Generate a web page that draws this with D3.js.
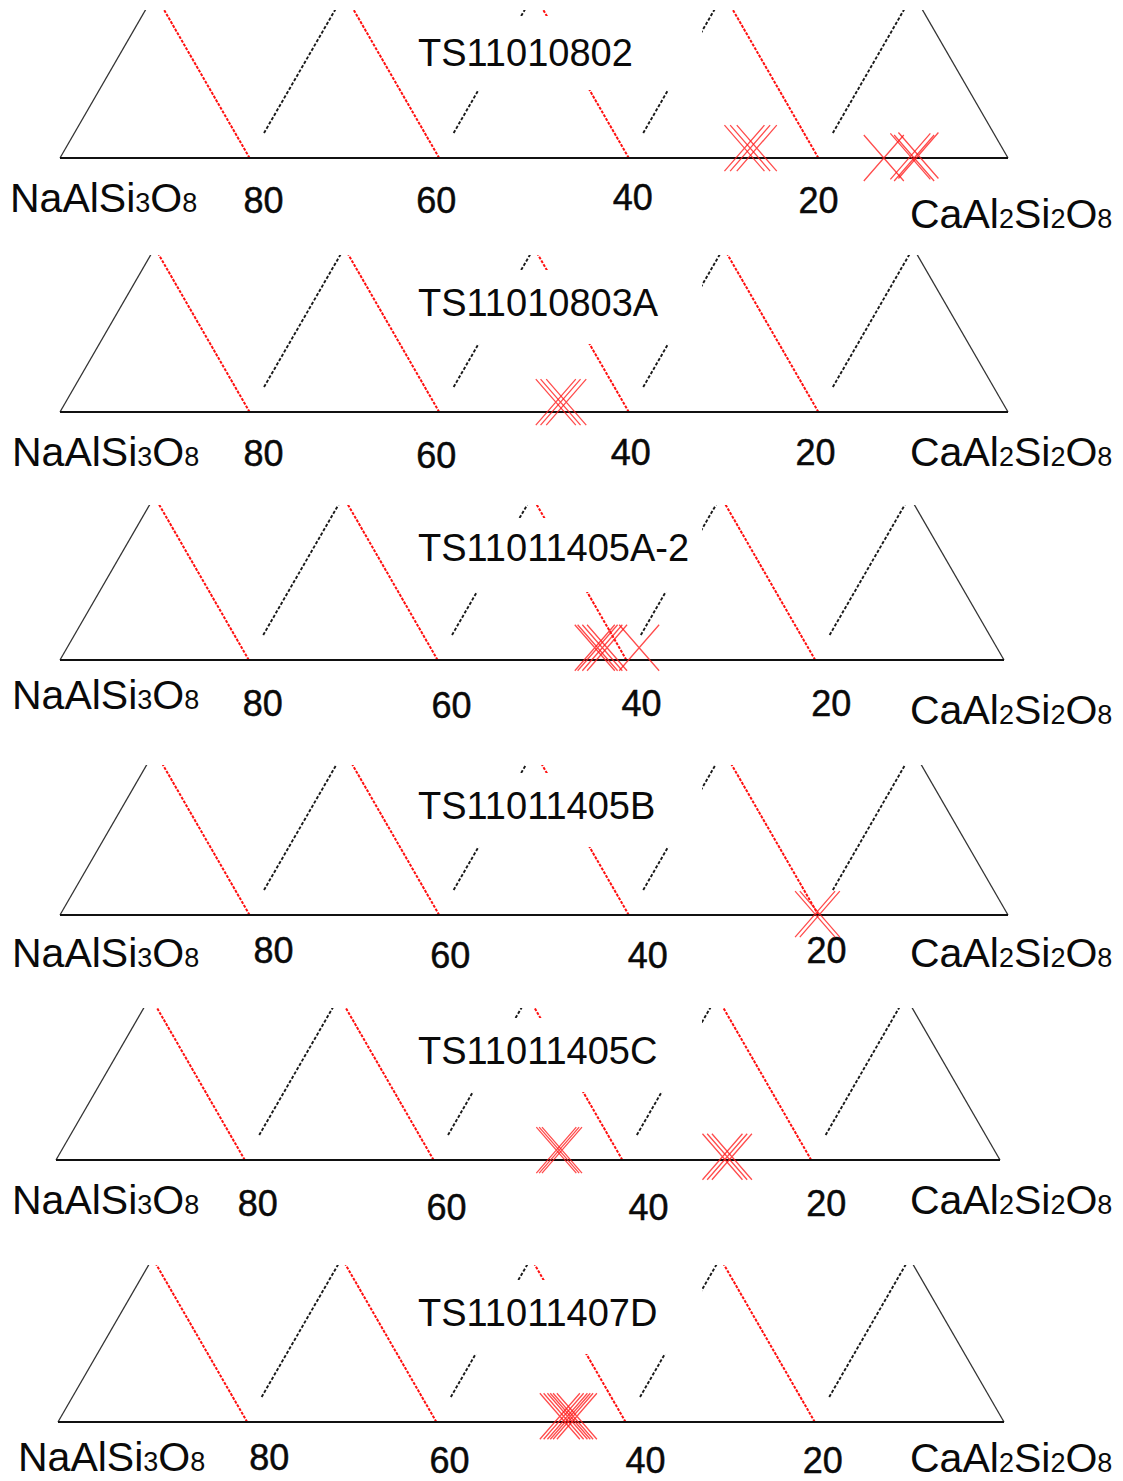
<!DOCTYPE html>
<html>
<head>
<meta charset="utf-8">
<script src="https://cdn.jsdelivr.net/npm/d3@7"></script>
<style>
  body { margin: 0; background: #fff; }
  text { font-family: "Liberation Sans", Arial, sans-serif; fill: #0a0a0a; }
</style>
</head>
<body>
<svg id="chart" width="1123" height="1481"></svg>
<script>
// Plagioclase compositions (mol%) plotted on the Ab–An join of the feldspar ternary.
const samples = ["TS11010802", "TS11010803A", "TS11011405A-2", "TS11011405B", "TS11011405C", "TS11011407D"];

// Ab (albite) grid values labelled along the base
const gridAb = [80, 60, 40, 20];
const tickLabels = ["80", "60", "40", "20"];

// End-member formulas: [text, isSubscript]
const leftMember = [["NaAlSi", false], ["3", true], ["O", false], ["8", true]];
const rightMember = [["CaAl", false], ["2", true], ["Si", false], ["2", true], ["O", false], ["8", true]];

// Spot analyses: anorthite (An) and orthoclase (Or) mol%; Ab = 100 - An - Or
const anTS11010802 = [71.6, 72.2, 72.9, 86.9, 89.6, 90.1, 90.4];
const orTS11010802 = [1.2, 1.2, 1.2, 0.0, 0.2, 0.0, 0.3];

const anTS11010803A = [51.7, 52.2, 52.8];
const orTS11010803A = [1.2, 1.2, 1.2];

const anTS11011405A2 = [55.9, 56.2, 56.7, 57.2, 60.6];
const orTS11011405A2 = [1.5, 1.5, 1.5, 1.5, 1.5];

const anTS11011405B = [79.6, 80.1];
const orTS11011405B = [0.1, 0.1];

const anTS11011405C = [52.4, 52.7, 53.0, 70.4, 70.9, 71.4];
const orTS11011405C = [1.2, 1.2, 1.2, 0.4, 0.4, 0.4];

const anTS11011407D = [52.7, 53.1, 53.5, 53.8, 54.1, 54.5];
const orTS11011407D = [0.7, 0.7, 0.7, 0.7, 0.7, 0.7];

const sampleAn = [anTS11010802, anTS11010803A, anTS11011405A2, anTS11011405B, anTS11011405C, anTS11011407D];
const sampleOr = [orTS11010802, orTS11010803A, orTS11011405A2, orTS11011405B, orTS11011405C, orTS11011407D];

// ---- layout of the six stacked panels ----
const panelBase  = [158, 412, 660, 915, 1160, 1422];
const panelLeft  = [60, 60, 60, 60, 56, 58];
const panelRight = [1008, 1008, 1004, 1008, 1000, 1004];
const panelClip  = [148, 157, 155, 150, 152, 157];   // visible strip height above the base
const leftLabel  = [[10, 54], [12, 54], [12, 49], [12, 52], [12, 54], [18, 49]];
const rightLabel = [[910, 70], [910, 54], [910, 64], [910, 52], [910, 54], [910, 50]];
const titleDy    = [92, 96, 99, 96, 96, 96];
const tickDx = [[14, -3, 4, 0], [14, -3, 2, -3], [14, 14, 15, 16], [24, 11, 19, 8], [13, 13, 26, 15], [22, 13, 20, 8]];
const tickDy = [[42, 42, 39, 42], [41, 43, 40, 40], [43, 45, 43, 43], [35, 40, 40, 35], [43, 47, 47, 43], [35, 38, 38, 38]];

const svg = d3.select("#chart");
const defs = svg.append("defs");
const SQ3 = Math.sqrt(3) / 2;

samples.forEach((name, i) => {
  const base = panelBase[i];
  const x = d3.scaleLinear().domain([0, 100]).range([panelLeft[i], panelRight[i]]);
  const h = d3.scaleLinear().domain([0, 100]).range([base, base - (panelRight[i] - panelLeft[i]) * SQ3]);
  // ternary (An, Or) -> screen
  const px = (an, or) => x(an + or / 2);
  const py = (or) => h(or);
  const orAt = (pix) => h.invert(base - pix);   // Or value reached pix pixels above the base

  const g = svg.append("g").attr("class", "panel");

  defs.append("clipPath").attr("id", "clip" + i)
    .append("rect")
    .attr("x", 0).attr("width", 1123)
    .attr("y", base - panelClip[i]).attr("height", panelClip[i] + 2);

  const grid = g.append("g").attr("clip-path", `url(#clip${i})`);
  const line = d3.line().x(d => d[0]).y(d => d[1]);
  const orTop = orAt(panelClip[i] + 4);

  // constant-Ab lines (parallel to the An–Or edge)
  grid.selectAll(".abLine").data(gridAb).join("path")
    .attr("class", "abLine")
    .attr("d", ab => line([[px(100 - ab, 0), py(0)], [px(100 - ab - orTop, orTop), py(orTop)]]))
    .attr("fill", "none").attr("stroke", "#ff1010").attr("stroke-width", 2)
    .attr("stroke-dasharray", "3,1.3");

  // constant-An lines (parallel to the Ab–Or edge)
  const orGap = orAt(25);
  grid.selectAll(".anLine").data(gridAb).join("path")
    .attr("class", "anLine")
    .attr("d", ab => line([[px(100 - ab, orGap), py(orGap)], [px(100 - ab, orTop), py(orTop)]]))
    .attr("fill", "none").attr("stroke", "#1a1a1a").attr("stroke-width", 1.9)
    .attr("stroke-dasharray", "3.2,1.8");

  // triangle sides
  grid.append("path")
    .attr("d", line([[px(0, orTop), py(orTop)], [px(0, 0), py(0)]]))
    .attr("fill", "none").attr("stroke", "#333").attr("stroke-width", 1.3);
  grid.append("path")
    .attr("d", line([[px(100 - orTop, orTop), py(orTop)], [px(100, 0), py(0)]]))
    .attr("fill", "none").attr("stroke", "#333").attr("stroke-width", 1.3);

  // base (Ab–An join)
  g.append("line")
    .attr("x1", x(0)).attr("x2", x(100)).attr("y1", base).attr("y2", base)
    .attr("stroke", "#111").attr("stroke-width", 2);

  // sample name on a white box that masks the grid behind it
  g.append("rect")
    .attr("x", 408).attr("width", 294)
    .attr("y", base - 142).attr("height", 74)
    .attr("fill", "#fff");
  g.append("text")
    .attr("x", 418).attr("y", base - titleDy[i])
    .attr("font-size", 38)
    .text(name);

  // tick labels
  g.selectAll(".tick").data(gridAb).join("text")
    .attr("class", "tick")
    .attr("x", (ab, k) => x(100 - ab) + tickDx[i][k])
    .attr("y", (ab, k) => base + tickDy[i][k] + 13)
    .attr("text-anchor", "middle")
    .attr("font-size", 36)
    .attr("stroke", "#0a0a0a").attr("stroke-width", 0.5)
    .text((ab, k) => tickLabels[k]);

  // end-member labels
  const member = (parts, pos) => {
    const t = g.append("text").attr("x", pos[0]).attr("y", base + pos[1]).attr("font-size", 41);
    parts.forEach(([s, sub]) => t.append("tspan").attr("font-size", sub ? 27 : 41).text(s));
  };
  member(leftMember, leftLabel[i]);
  member(rightMember, rightLabel[i]);

  // analysed spots as X markers
  const pts = sampleAn[i].map((an, k) => ({ an, or: sampleOr[i][k] }));
  const hw = 20, hh = 23;
  g.selectAll(".spot").data(pts).join("path")
    .attr("class", "spot")
    .attr("d", d => {
      const cx = px(d.an, d.or), cy = py(d.or);
      return `M${cx - hw},${cy - hh}L${cx + hw},${cy + hh}M${cx + hw},${cy - hh}L${cx - hw},${cy + hh}`;
    })
    .attr("fill", "none").attr("stroke", "#ff1a1a").attr("stroke-width", 1.3)
    .attr("stroke-opacity", 0.78);
});
</script>
</body>
</html>
